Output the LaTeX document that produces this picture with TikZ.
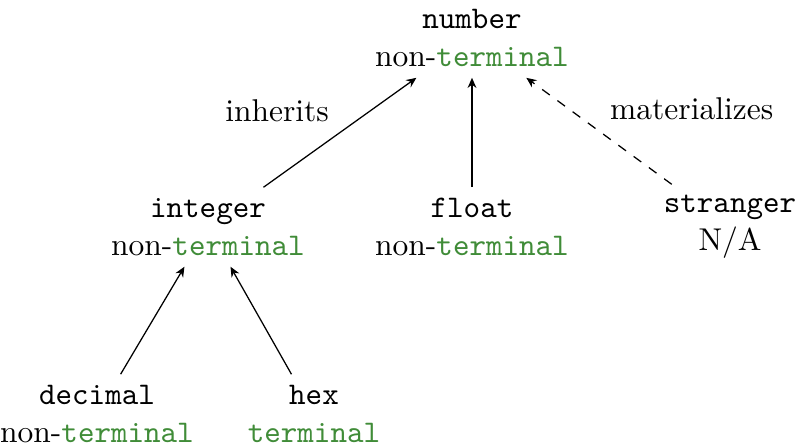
\documentclass[tikz,border=0pt]{standalone}
\usetikzlibrary{arrows.meta}
\definecolor{termgreen}{RGB}{64,140,56}
\newcommand{\kind}[1]{\textcolor{termgreen}{\texttt{#1}}}
\begin{document}
\begin{tikzpicture}[x=0.31746pt,y=-0.31746pt,
  sym/.style={align=center},
  link/.style={-{Stealth[length=3.2pt,width=2.8pt]}}]
\useasboundingbox (0,0) rectangle (795,446);
% grammar symbols: name on top, kind underneath
\node[sym] (number)   at (472,38)  {\texttt{number}\\non-\kind{terminal}};
\node[sym] (integer)  at (208,227) {\texttt{integer}\\non-\kind{terminal}};
\node[sym] (float)    at (472,227) {\texttt{float}\\non-\kind{terminal}};
\node[sym] (stranger) at (730,227) {\texttt{stranger}\\N/A};
\node[sym] (decimal)  at (97,414)  {\texttt{decimal}\\non-\kind{terminal}};
\node[sym] (hex)      at (314,414) {\texttt{hex}\\\kind{terminal}};
% relations
\draw[link] (integer) -- node[above left] {inherits} (number);
\draw[link] (float) -- (number);
\draw[link,dashed] (stranger) -- node[above right] {materializes} (number);
\draw[link] (decimal) -- (integer);
\draw[link] (hex) -- (integer);
\end{tikzpicture}
\end{document}
